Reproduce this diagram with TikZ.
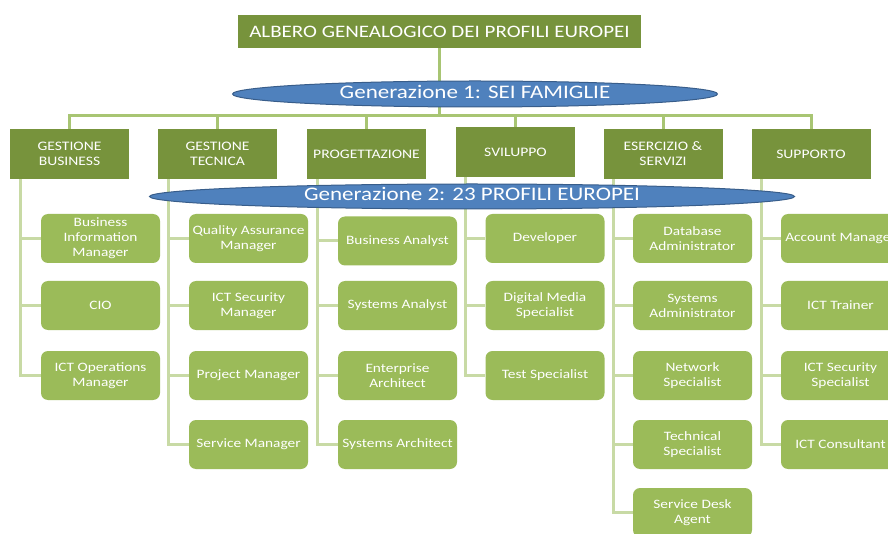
\documentclass[tikz,border=0pt]{standalone}
\usepackage{fontspec}
\setmainfont{Carlito}[FakeStretch=1.2]
\usetikzlibrary{shapes.geometric,backgrounds}
\definecolor{dkgreen}{RGB}{119,147,60}
\definecolor{ltgreen}{RGB}{155,187,89}
\definecolor{busline}{RGB}{168,197,115}
\definecolor{subline}{RGB}{200,218,165}
\definecolor{ellblue}{RGB}{79,129,189}
\definecolor{ellborder}{RGB}{56,93,138}
\begin{document}
\begin{tikzpicture}[x=1pt,y=-1pt,
 titlebox/.style={fill=dkgreen, text=white, minimum width=403pt, minimum height=33pt, inner sep=0pt, font=\fontsize{17.5}{20}\selectfont},
 fambox/.style={fill=dkgreen, text=white, minimum width=119pt, minimum height=50pt, inner sep=0pt, align=center, font=\fontsize{13}{15}\selectfont},
 childbox/.style={fill=ltgreen, text=white, rounded corners=7pt, minimum width=119pt, minimum height=49pt, inner sep=0pt, align=center, font=\fontsize{12.8}{15}\selectfont},
 gen/.style={ellipse, fill=ellblue, draw=ellborder, line width=1pt, text=white, inner sep=0pt, text height=11pt, text depth=2pt, font=\fontsize{19.2}{21}\selectfont},
 bus/.style={draw=busline, line width=3pt},
 sub/.style={draw=subline, line width=3pt},
]
\useasboundingbox (0,0) rectangle (888,534);
\clip (0,0) rectangle (888,534);

% title and generations
\node[titlebox] (T) at (439.5,31.5) {ALBERO GENEALOGICO DEI PROFILI EUROPEI};
\node[gen, minimum width=485pt, minimum height=26pt] (G1) at (475,94) {Generazione 1: SEI FAMIGLIE};
\node[gen, minimum width=645pt, minimum height=25pt] (G2) at (472,196.5) {Generazione 2: 23 PROFILI EUROPEI};

% families
\node[fambox] (F1) at (69.5,154) {GESTIONE\\BUSINESS};
\node[fambox] (F2) at (217.5,154) {GESTIONE\\TECNICA};
\node[fambox] (F3) at (366.5,154) {PROGETTAZIONE};
\node[fambox] (F4) at (515.5,152) {SVILUPPO};
\node[fambox] (F5) at (663,154) {ESERCIZIO \&\\SERVIZI};
\node[fambox] (F6) at (811,154) {SUPPORTO};

% column 1
\node[childbox] (C11) at (100.5,238.5) {Business\\Information\\Manager};
\node[childbox] (C12) at (100.5,305.5) {CIO};
\node[childbox] (C13) at (100.5,375.5) {ICT Operations\\Manager};
% column 2
\node[childbox] (C21) at (248.5,238.5) {Quality Assurance\\Manager};
\node[childbox] (C22) at (248.5,305.5) {ICT Security\\Manager};
\node[childbox] (C23) at (248.5,375.5) {Project Manager};
\node[childbox] (C24) at (248.5,444.5) {Service Manager};
% column 3
\node[childbox] (C31) at (397.5,241) {Business Analyst};
\node[childbox] (C32) at (397.5,305.5) {Systems Analyst};
\node[childbox] (C33) at (397.5,375.5) {Enterprise\\Architect};
\node[childbox] (C34) at (397.5,444.5) {Systems Architect};
% column 4
\node[childbox] (C41) at (545,238.5) {Developer};
\node[childbox] (C42) at (545,305.5) {Digital Media\\Specialist};
\node[childbox] (C43) at (545,375.5) {Test Specialist};
% column 5
\node[childbox] (C51) at (692.5,238.5) {Database\\Administrator};
\node[childbox] (C52) at (692.5,305.5) {Systems\\Administrator};
\node[childbox] (C53) at (692.5,375.5) {Network\\Specialist};
\node[childbox] (C54) at (692.5,444.5) {Technical\\Specialist};
\node[childbox] (C55) at (692.5,512.5) {Service Desk\\Agent};
% column 6
\node[childbox] (C61) at (840.5,238.5) {Account Manager};
\node[childbox] (C62) at (840.5,305.5) {ICT Trainer};
\node[childbox] (C63) at (840.5,375.5) {ICT Security\\Specialist};
\node[childbox] (C64) at (840.5,444.5) {ICT Consultant};

\begin{pgfonlayer}{background}
% top tree
\coordinate (busY) at (0,116);
\draw[bus] (T.south) -- (T.south |- busY);
\draw[bus] (F1.north) -- (F1.north |- busY) -- (F6.north |- busY) -- (F6.north);
\foreach \f in {F2,F3,F4,F5} { \draw[bus] (\f.north |- busY) -- (\f.north); }
% child connectors
\coordinate (v1) at ([xshift=11pt]F1.south west);
\coordinate (v2) at ([xshift=11pt]F2.south west);
\coordinate (v3) at ([xshift=10.5pt]F3.south west);
\coordinate (v4) at ([xshift=10pt]F4.south west);
\coordinate (v5) at ([xshift=10pt]F5.south west);
\coordinate (v6) at ([xshift=10pt]F6.south west);
\draw[sub] (v1) -- (v1 |- C13.west) -- (C13.west);
\foreach \c in {C11,C12} { \draw[sub] (v1 |- \c.west) -- (\c.west); }
\draw[sub] (v2) -- (v2 |- C24.west) -- (C24.west);
\foreach \c in {C21,C22,C23} { \draw[sub] (v2 |- \c.west) -- (\c.west); }
\draw[sub] (v3) -- (v3 |- C34.west) -- (C34.west);
\foreach \c in {C31,C32,C33} { \draw[sub] (v3 |- \c.west) -- (\c.west); }
\draw[sub] ([yshift=2pt]v4 |- F1.south) -- (v4 |- C43.west) -- (C43.west);
\foreach \c in {C41,C42} { \draw[sub] (v4 |- \c.west) -- (\c.west); }
\draw[sub] (v5) -- (v5 |- C55.west) -- (C55.west);
\foreach \c in {C51,C52,C53,C54} { \draw[sub] (v5 |- \c.west) -- (\c.west); }
\draw[sub] (v6) -- (v6 |- C64.west) -- (C64.west);
\foreach \c in {C61,C62,C63} { \draw[sub] (v6 |- \c.west) -- (\c.west); }
\end{pgfonlayer}
\end{tikzpicture}
\end{document}
